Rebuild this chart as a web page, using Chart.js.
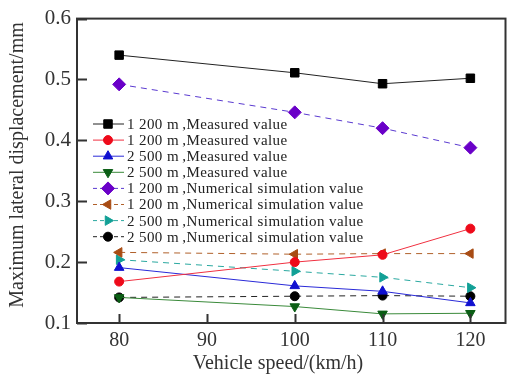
<!DOCTYPE html>
<html>
<head>
<meta charset="utf-8">
<script src="https://cdn.jsdelivr.net/npm/chart.js@4.4.0/dist/chart.umd.min.js"></script>
<style>
  html, body { margin: 0; padding: 0; background: #fff; }
  #wrap { width: 513px; height: 381px; position: relative; }
</style>
</head>
<body>
<div id="wrap"><canvas id="c"></canvas></div>
<script>
// 车速 (km/h)
const speeds = [80, 100, 110, 120];
const xTicks = [80, 90, 100, 110, 120];
const yTicks = [0.1, 0.2, 0.3, 0.4, 0.5, 0.6];

const measured1200 = [0.540, 0.511, 0.493, 0.502];
const measured1200b = [0.168, 0.200, 0.212, 0.255];
const measured2500 = [0.191, 0.161, 0.152, 0.133];
const measured2500b = [0.142, 0.127, 0.115, 0.116];
const sim1200 = [0.492, 0.446, 0.420, 0.388];
const sim1200b = [0.216, 0.213, 0.214, 0.214];
const sim2500 = [0.204, 0.185, 0.175, 0.158];
const sim2500b = [0.142, 0.144, 0.145, 0.144];

const labels = [
  "1 200 m\u2009,Measured value",
  "1 200 m\u2009,Measured value",
  "2 500 m\u2009,Measured value",
  "2 500 m\u2009,Measured value",
  "1 200 m\u2009,Numerical simulation value",
  "1 200 m\u2009,Numerical simulation value",
  "2 500 m\u2009,Numerical simulation value",
  "2 500 m\u2009,Numerical simulation value"
];

const serif = "'Liberation Serif', 'DejaVu Serif', serif";

function ds(label, values, line, marker, style, radius, dashed) {
  return {
    label: label,
    data: values.map((v, i) => ({ x: speeds[i], y: v })),
    borderColor: line,
    backgroundColor: marker,
    pointBorderColor: marker,
    pointBackgroundColor: marker,
    pointStyle: style,
    pointRadius: radius,
    pointRotation: 0,
    borderWidth: 1,
    borderDash: dashed ? [6, 5] : [],
    tension: 0
  };
}

const datasets = [
  ds(labels[0], measured1200, "#222", "#000", "rect", 6, false),
  ds(labels[1], measured1200b, "#f03040", "#ee0a1a", "circle", 4.5, false),
  ds(labels[2], measured2500, "#2a2ad8", "#1010d0", "triangle", 5.5, false),
  ds(labels[3], measured2500b, "#3a8a3a", "#0b5e15", "triangle", 5.5, false),
  ds(labels[4], sim1200, "#5a3ad0", "#6a00c8", "rectRot", 6.5, true),
  ds(labels[5], sim1200b, "#b0602a", "#a84c14", "triangle", 5.5, true),
  ds(labels[6], sim2500, "#2aa8a0", "#12a096", "triangle", 5.5, true),
  ds(labels[7], sim2500b, "#222", "#000", "circle", 4.5, true)
];
// 朝向不同的三角形
const rotations = [0, 0, 0, 180, 0, -90, 90, 0];
datasets.forEach((d, i) => { d.pointRotation = rotations[i]; });

// 内向刻度、边框、图例、坐标轴标题
const decor = {
  id: "decor",
  afterDraw(chart) {
    const ctx = chart.ctx;
    const a = chart.chartArea;
    const xs = chart.scales.x, ys = chart.scales.y;
    ctx.save();
    ctx.strokeStyle = "#333";
    ctx.lineWidth = 2;
    ctx.strokeRect(a.left, a.top, a.right - a.left, a.bottom - a.top);
    ctx.beginPath();
    xTicks.forEach(v => {
      const px = Math.round(xs.getPixelForValue(v)) + 0.5;
      ctx.moveTo(px, a.bottom);
      ctx.lineTo(px, a.bottom - 9);
    });
    yTicks.forEach(v => {
      const py = Math.round(ys.getPixelForValue(v)) + 0.5;
      ctx.moveTo(a.left, py);
      ctx.lineTo(a.left + 10, py);
    });
    ctx.stroke();

    // 图例
    ctx.font = "15px " + serif;
    ctx.textBaseline = "middle";
    chart.data.datasets.forEach((d, i) => {
      const y = 124 + i * 16.1;
      ctx.strokeStyle = d.borderColor;
      ctx.lineWidth = 1;
      ctx.setLineDash(d.borderDash.length ? [4, 3] : []);
      ctx.beginPath();
      ctx.moveTo(93, y);
      ctx.lineTo(124, y);
      ctx.stroke();
      ctx.setLineDash([]);
      ctx.fillStyle = d.pointBackgroundColor;
      ctx.strokeStyle = d.pointBorderColor;
      Chart.helpers.drawPoint(ctx, {
        pointStyle: d.pointStyle, rotation: d.pointRotation,
        radius: d.pointRadius, borderWidth: 1
      }, 108, y);
      ctx.fillStyle = "#222";
      ctx.textAlign = "left";
      ctx.letterSpacing = "0.4px";
      ctx.fillText(d.label, 127, y + 1);
      ctx.letterSpacing = "0px";
    });

    // 坐标轴标题
    ctx.fillStyle = "#333";
    ctx.font = "20px " + serif;
    ctx.textAlign = "center";
    ctx.textBaseline = "middle";
    ctx.fillText("Vehicle speed/(km/h)", 278, 364);
    ctx.translate(18, 165);
    ctx.rotate(-Math.PI / 2);
    ctx.font = "20px " + serif;
    ctx.fillText("Maximum lateral displacement/mm", 0, 0);
    ctx.restore();
  }
};

new Chart(document.getElementById("c"), {
  type: "line",
  data: { datasets: datasets },
  options: {
    responsive: true,
    maintainAspectRatio: false,
    animation: false,
    layout: { padding: { left: 0, right: 1, top: 13, bottom: 0 } },
    plugins: { legend: { display: false }, tooltip: { enabled: false } },
    scales: {
      x: {
        type: "linear",
        min: 75.2,
        max: 124,
        afterBuildTicks: s => { s.ticks = xTicks.map(v => ({ value: v })); },
        grid: { display: false, drawTicks: false },
        border: { display: false },
        ticks: { color: "#333", font: { family: serif, size: 20 }, padding: 6 },
        afterFit: s => { s.height = 58; }
      },
      y: {
        type: "linear",
        min: 0.1,
        max: 0.6,
        afterBuildTicks: s => { s.ticks = yTicks.map(v => ({ value: v })); },
        grid: { display: false, drawTicks: false },
        border: { display: false },
        ticks: { color: "#333", font: { family: serif, size: 21 }, padding: 6,
                 callback: v => v.toFixed(1) },
        afterFit: s => { s.width = 77; }
      }
    }
  },
  plugins: [decor]
});
</script>
</body>
</html>
